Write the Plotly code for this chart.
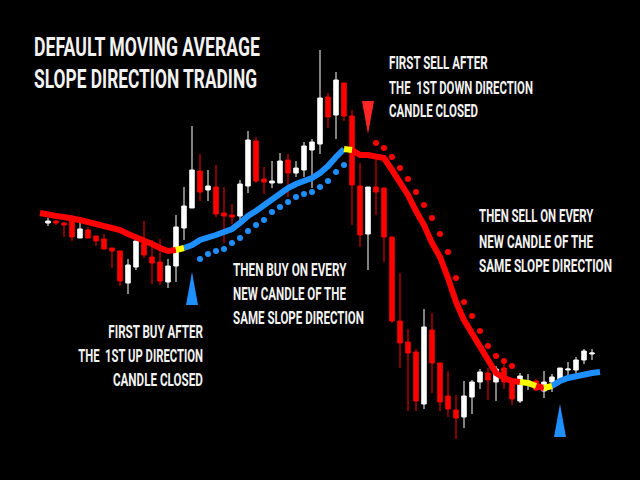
import json
import plotly.graph_objects as go

# ---------------- data ----------------
candle_idx = list(range(69))
opens = [257, 259, 257, 261, 242, 250, 244, 241, 232, 229, 197, 213, 239, 223, 218, 198, 214, 252, 272, 309,
         290, 293, 267, 265, 264, 294, 339, 301, 297, 297, 320, 307, 310, 330, 336, 383, 365, 397, 364, 294,
         246, 293, 292, 243, 159, 138, 128, 76, 150, 117, 84, 70, 63, 83, 98, 107, 98, 112, 98, 79,
         97, 99, 89, 98, 101, 110, 110, 120, 126]
highs = [262, 260, 258, 265, 257, 253, 244, 246, 232, 229, 221, 239, 259, 240, 241, 221, 265, 293, 354, 326,
         310, 315, 293, 276, 300, 349, 343, 313, 319, 327, 326, 319, 338, 341, 430, 387, 408, 397, 370, 317,
         293, 322, 292, 243, 207, 151, 131, 171, 167, 117, 109, 85, 99, 100, 111, 112, 114, 117, 98, 107,
         106, 101, 109, 106, 112, 118, 123, 131, 131]
lows = [254, 255, 243, 239, 242, 242, 234, 231, 212, 194, 186, 210, 222, 196, 195, 192, 198, 240, 272, 279,
        279, 263, 237, 256, 258, 287, 297, 286, 292, 297, 283, 303, 303, 292, 326, 352, 341, 359, 255, 233,
        210, 265, 218, 157, 112, 69, 69, 71, 87, 69, 63, 41, 52, 66, 91, 80, 79, 91, 75, 77,
        90, 89, 82, 88, 98, 103, 105, 116, 120]
closes = [259, 257, 255, 243, 251, 242, 239, 231, 229, 199, 215, 239, 225, 217, 199, 214, 253, 274, 310, 288,
          294, 266, 264, 263, 296, 340, 299, 298, 299, 319, 307, 312, 334, 338, 382, 363, 400, 364, 295, 245,
          293, 288, 243, 159, 137, 127, 79, 153, 117, 78, 71, 62, 84, 98, 108, 100, 111, 98, 81, 104,
          99, 90, 98, 103, 112, 111, 120, 129, 127]

ma_idx = list(range(-1, 70))
ma_vals = [267, 265, 264, 263, 262, 260, 258, 256, 255, 253, 250, 246, 243, 240, 236, 232, 229, 230, 232, 235,
           240, 242, 245, 248, 251, 257, 264, 269, 275, 281, 287, 292, 296, 299, 302, 307, 314, 323, 331, 330,
           325, 325, 324, 322, 310, 297, 285, 269, 255, 237, 223, 202, 178, 160, 146, 132, 118, 107, 102, 99,
           98, 97, 94, 92, 94, 99, 102, 104, 106, 107, 108]
# slope state of each MA segment: -1 down, 0 turning, 1 up
ma_state = [-1, -1, -1, -1, -1, -1, -1, -1, -1, -1, -1, -1, -1, -1, -1, -1, -1, 0,
            1, 1, 1, 1, 1, 1, 1, 1, 1, 1, 1, 1, 1, 1, 1, 1, 1, 1, 1, 1, 0,
            -1, -1, -1, -1, -1, -1, -1, -1, -1, -1, -1, -1, -1, -1, -1, -1, -1, -1, -1, -1, -1,
            0, 0, -1, 0, 1, 1, 1, 1, 1, 1]

buy_dot_idx = list(range(19, 38))
buy_dot_vals = [221, 226, 229, 231, 237, 242, 249, 255, 260, 268, 273, 278, 283, 286, 288, 293, 299, 308, 315]
sell_dot_idx = list(range(41, 59))
sell_dot_vals = [337, 332, 323, 312, 301, 288, 275, 262, 246, 228, 202, 178, 164, 149, 134, 124, 119, 114]

arrow_idx = [18, 40, 64]
arrow_tip = [208, 346, 76]
arrow_dir = [1, -1, 1]

title_lines = ["DEFAULT MOVING AVERAGE", "SLOPE DIRECTION TRADING"]
sell_first_lines = ["FIRST SELL AFTER", "THE\u00a0\u00a01ST DOWN DIRECTION", "CANDLE CLOSED"]
sell_next_lines = ["THEN SELL ON EVERY", "NEW CANDLE OF THE", "SAME SLOPE DIRECTION"]
buy_next_lines = ["THEN BUY ON EVERY", "NEW CANDLE OF THE", "SAME SLOPE DIRECTION"]
buy_first_lines = ["FIRST BUY AFTER", "THE\u00a0\u00a01ST UP DIRECTION", "CANDLE CLOSED"]

# ---------------- styles ----------------
RED = "#FF0000"
BLUE = "#1E8FFF"
YELLOW = "#FFFF00"
WHITE = "#FFFFFF"
state_color = {-1: RED, 0: YELLOW, 1: BLUE}
ARROW_H = 33
ARROW_HW = 0.75
FONT = "Roboto, Liberation Sans, sans-serif"

fig = go.Figure()

# moving average colored by slope state
for state in (-1, 1, 0):
    xs, ys = [], []
    k = 0
    n = len(ma_state)
    while k < n:
        if ma_state[k] == state:
            j = k
            while j < n and ma_state[j] == state:
                j += 1
            xs += ma_idx[k:j + 1] + [None]
            ys += ma_vals[k:j + 1] + [None]
            k = j
        else:
            k += 1
    fig.add_trace(go.Scatter(x=xs, y=ys, mode="lines",
                             line=dict(color=state_color[state], width=6),
                             hoverinfo="skip"))

fig.add_trace(go.Scatter(x=buy_dot_idx, y=buy_dot_vals, mode="markers",
                         marker=dict(color=BLUE, size=6), hoverinfo="skip"))
fig.add_trace(go.Scatter(x=sell_dot_idx, y=sell_dot_vals, mode="markers",
                         marker=dict(color=RED, size=6), hoverinfo="skip"))

fig.add_trace(go.Candlestick(
    x=candle_idx, open=opens, high=highs, low=lows, close=closes,
    increasing=dict(line=dict(color=WHITE, width=1), fillcolor=WHITE),
    decreasing=dict(line=dict(color=RED, width=1), fillcolor=RED),
    whiskerwidth=0, hoverinfo="skip"))

shapes = []
for xi, tip, d in zip(arrow_idx, arrow_tip, arrow_dir):
    base = tip - d * ARROW_H
    col = BLUE if d > 0 else "#FF2626"
    shapes.append(dict(type="path", xref="x", yref="y",
                       path=f"M {xi-ARROW_HW},{base} L {xi+ARROW_HW},{base} L {xi},{tip} Z",
                       fillcolor=col, line=dict(width=0)))

annotations = []
target_w = []
anchors = []

def add_block(lines, xpx, ypxs, size, widths, anchor="left"):
    for text, ypx, w in zip(lines, ypxs, widths):
        annotations.append(dict(text=text, x=xpx / 640, y=1 - ypx / 480, xref="paper", yref="paper",
                                xanchor=anchor, yanchor="middle", showarrow=False, borderpad=0,
                                font=dict(family=FONT, size=size, color="#F2F2F2", weight="bold")))
        target_w.append(w)
        anchors.append(anchor)

add_block(title_lines, 33, [48, 80], 25, [226, 223])
add_block(sell_first_lines, 388, [63, 87, 111], 18, [99, 144, 89])
add_block(sell_next_lines, 478, [216, 241, 265], 18, [115, 114, 133])
add_block(buy_next_lines, 232, [269, 293, 317], 18, [114, 113, 131])
add_block(buy_first_lines, 204, [331, 355, 379], 18, [95, 125, 90], "right")

fig.update_layout(
    width=640, height=480, margin=dict(l=0, r=0, t=0, b=0),
    paper_bgcolor="black", plot_bgcolor="black", showlegend=False,
    boxgap=0.2,
    xaxis=dict(range=[-6, 74], visible=False, rangeslider=dict(visible=False), fixedrange=True),
    yaxis=dict(range=[0, 480], visible=False, fixedrange=True),
    shapes=shapes, annotations=annotations,
)

post = """
document.body.style.margin = '0px';
document.body.style.background = 'black';
var gd = document.getElementById('{plot_id}');
var W = %s, A = %s;
gd.querySelectorAll('g.annotation').forEach(function(g){
  var i = +g.getAttribute('data-index');
  var t = g.querySelector('text.annotation-text');
  if (!t) return;
  var bb = t.getBBox();
  if (!bb.width) return;
  var s = W[i] / bb.width;
  var ax = (A[i] === 'right') ? bb.x + bb.width : bb.x;
  var old = t.getAttribute('transform') || '';
  t.setAttribute('transform', old + ' translate(' + ax + ',0) scale(' + s + ',1) translate(' + (-ax) + ',0)');
});
""" % (json.dumps(target_w), json.dumps(anchors))

fig.write_html("out.html", post_script=post, config={"displayModeBar": False})
